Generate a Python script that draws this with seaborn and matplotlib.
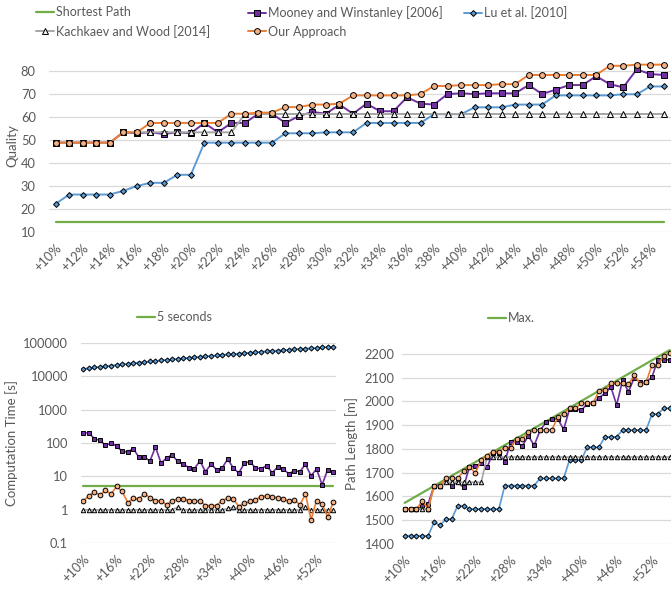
import numpy as np
import matplotlib
matplotlib.use("Agg")
import matplotlib.pyplot as plt
import seaborn as sns

# ---------------- data ----------------
categories = ["+10%", "+11%", "+12%", "+13%", "+14%", "+15%", "+16%", "+17%", "+18%", "+19%",
              "+20%", "+21%", "+22%", "+23%", "+24%", "+25%", "+26%", "+27%", "+28%", "+29%",
              "+30%", "+31%", "+32%", "+33%", "+34%", "+35%", "+36%", "+37%", "+38%", "+39%",
              "+40%", "+41%", "+42%", "+43%", "+44%", "+45%", "+46%", "+47%", "+48%", "+49%",
              "+50%", "+51%", "+52%", "+53%", "+54%", "+55%"]

# Quality (top chart)
shortest_cats = ["+10%", "+55%"]
quality_shortest = [14.1, 14.1]
quality_mooney = [48.8, 48.8, 48.8, 48.8, 48.8, 53.3, 52.9, 53.3, 52.6, 53.3,
                  52.9, 57.4, 53.3, 57.4, 57.4, 61.4, 61.4, 57.4, 60.4, 62.2,
                  61.4, 65.4, 61.4, 65.8, 62.5, 62.5, 68.6, 65.8, 65.4, 70.0,
                  70.3, 70.0, 70.3, 70.3, 70.3, 73.9, 70.0, 71.9, 73.9, 73.9,
                  77.8, 74.3, 72.9, 80.7, 78.7, 78.3]
quality_lu = [22.2, 26.2, 26.2, 26.2, 26.2, 27.8, 29.9, 31.3, 31.3, 34.8,
              34.8, 48.8, 48.8, 48.8, 48.8, 48.8, 48.8, 52.9, 52.9, 52.9,
              53.3, 53.3, 53.3, 57.4, 57.4, 57.4, 57.4, 57.4, 61.2, 61.2,
              61.2, 64.2, 64.2, 64.2, 65.4, 65.4, 65.4, 69.4, 69.4, 69.4,
              69.4, 69.4, 69.9, 69.9, 73.3, 73.3]
quality_kachkaev = [48.8, 48.8, 48.8, 48.8, 48.8, 53.3, 53.3, 53.3, 53.3, 53.3,
                    53.3, 53.3, 53.3, 53.3, 61.3, 61.3, 61.3, 61.3, 61.3, 61.3,
                    61.3, 61.3, 61.3, 61.3, 61.3, 61.3, 61.3, 61.3, 61.3, 61.3,
                    61.3, 61.3, 61.3, 61.3, 61.3, 61.3, 61.3, 61.3, 61.3, 61.3,
                    61.3, 61.3, 61.3, 61.3, 61.3, 61.3]
quality_ours = [48.8, 48.8, 48.8, 48.8, 48.8, 53.3, 53.3, 57.4, 57.4, 57.4,
                57.4, 57.4, 57.4, 61.4, 61.4, 61.9, 61.9, 64.3, 64.3, 65.4,
                65.4, 65.8, 69.4, 69.4, 69.4, 69.4, 69.4, 70.0, 73.5, 73.5,
                73.9, 73.9, 73.9, 74.3, 74.3, 78.3, 78.3, 78.3, 78.3, 78.3,
                78.3, 82.3, 82.3, 82.8, 82.8, 82.8]

# Computation time (bottom left)
limit_cats = ["+10%", "+55%"]
time_limit = [5, 5]
time_mooney = [200, 200, 135, 120, 85, 100, 81, 56, 54, 68,
               38, 38, 29, 76, 25, 36, 44, 28, 24, 18,
               17, 29, 14, 23, 16, 18, 33, 18, 12.6, 25,
               27.5, 18, 17, 21, 13, 19, 16.6, 12, 14.8, 14,
               23, 10.5, 16.6, 5.6, 16, 13.5]
time_lu = [16500, 17300, 18200, 19000, 19800, 20700, 21600, 22500, 23400, 24400,
           25400, 26400, 27400, 28500, 29600, 30700, 31800, 33000, 34200, 35400,
           36600, 37900, 39200, 40500, 41800, 43200, 44600, 46000, 47400, 48900,
           50400, 51900, 53400, 55000, 56600, 58200, 59800, 61500, 63200, 64900,
           66600, 68400, 70200, 72000, 73800, 75600]
time_kachkaev = [1.0, 1.0, 1.0, 1.0, 1.0, 1.0, 1.0, 1.0, 1.0, 1.0,
                 1.0, 1.0, 1.0, 1.0, 1.0, 1.0, 1.0, 1.2, 1.0, 1.0,
                 1.0, 1.0, 1.0, 1.0, 1.0, 1.0, 1.1, 1.2, 1.0, 1.0,
                 1.0, 1.0, 1.0, 1.0, 1.0, 1.0, 1.0, 1.0, 1.0, 1.0,
                 1.2, 1.0, 1.0, 1.0, 1.0, 1.0]
time_ours = [1.86, 2.63, 3.4, 2.75, 3.8, 3.0, 5.0, 3.55, 1.66, 2.19,
             2.14, 3.0, 2.34, 1.86, 1.9, 1.41, 1.86, 2.14, 2.14, 1.9,
             1.9, 1.86, 1.35, 1.35, 1.35, 1.9, 2.24, 2.14, 1.26, 1.58,
             1.78, 2.0, 2.5, 2.63, 2.45, 2.29, 2.14, 1.78, 2.0, 1.41,
             3.0, 0.51, 1.9, 1.51, 0.6, 1.7]

# Path length (bottom right)
max_cats = ["+10%", "+55%"]
length_max = [1573, 2216]
length_mooney = [1547, 1547, 1547, 1560, 1570, 1646, 1646, 1660, 1646, 1660,
                 1638, 1725, 1728, 1740, 1722, 1785, 1785, 1746, 1828, 1828,
                 1813, 1855, 1815, 1878, 1912, 1926, 1926, 1882, 1968, 1968,
                 1962, 1990, 1992, 2015, 2034, 2062, 1985, 2088, 2041, 2100,
                 2080, 2080, 2103, 2175, 2175, 2175]
length_lu = [1435, 1435, 1435, 1435, 1435, 1491, 1478, 1505, 1505, 1561,
             1561, 1547, 1547, 1547, 1547, 1547, 1547, 1646, 1646, 1646,
             1646, 1646, 1646, 1676, 1676, 1676, 1676, 1676, 1754, 1754,
             1754, 1807, 1807, 1807, 1851, 1851, 1851, 1879, 1879, 1879,
             1879, 1879, 1947, 1947, 1971, 1971]
length_kachkaev = [1547, 1547, 1547, 1547, 1547, 1646, 1646, 1660, 1660, 1660,
                   1660, 1660, 1660, 1660, 1766, 1766, 1766, 1766, 1766, 1766,
                   1766, 1766, 1766, 1766, 1766, 1766, 1766, 1766, 1766, 1766,
                   1766, 1766, 1766, 1766, 1766, 1766, 1766, 1766, 1766, 1766,
                   1766, 1766, 1766, 1766, 1766, 1766]
length_ours = [1547, 1547, 1547, 1581, 1547, 1646, 1646, 1676, 1676, 1676,
               1707, 1726, 1698, 1754, 1772, 1789, 1789, 1806, 1806, 1842,
               1842, 1870, 1880, 1880, 1880, 1880, 1933, 1947, 1971, 1971,
               1992, 1992, 1992, 2044, 2048, 2076, 2076, 2076, 2072, 2110,
               2075, 2080, 2154, 2154, 2192, 2203]

# ---------------- style ----------------
sns.set_theme(style="white")
plt.rcParams["font.family"] = ["Lato", "DejaVu Sans"]
TXT = "#595959"
GREEN, PURPLE, BLUE, GRAY, ORANGE = "#70AD47", "#7030A0", "#5B9BD5", "#A5A5A5", "#ED7D31"
ORANGE_FACE = "#F4B183"

W, H = 671, 591
fig = plt.figure(figsize=(W / 100, H / 100), dpi=100)

def fx(px):
    return px / W

def fy(py):
    return 1 - py / H

ax1 = fig.add_axes([fx(49), fy(231.7), (670.5 - 49) / W, (231.7 - 59.6) / H])
ax2 = fig.add_axes([fx(80.5), fy(543.3), (336 - 80.5) / W, (543.3 - 342.7) / H])
ax3 = fig.add_axes([fx(401.7), fy(544), (672.6 - 401.7) / W, (544 - 342) / H])

x_idx = np.arange(len(categories))

def idx_of(cats):
    return [categories.index(c) for c in cats]

def series(ax, y, color, marker=None, ms=4, mfc=None, lw=1.4, label=None, x=None):
    kws = dict(color=color, linewidth=lw, label=label, legend=False, ax=ax)
    if marker is not None:
        kws.update(marker=marker, markersize=ms, markerfacecolor=mfc,
                   markeredgecolor="black", markeredgewidth=0.7)
    sns.lineplot(x=x_idx if x is None else x, y=y, **kws)

def style(ax):
    for s in ax.spines.values():
        s.set_visible(False)
    ax.grid(axis="y", color="#D9D9D9", linewidth=0.9)
    ax.grid(axis="x", visible=False)
    ax.set_axisbelow(True)
    ax.tick_params(axis="both", length=0, colors=TXT, labelsize=9.3)
    ax.set_xlim(-0.5, len(categories) - 0.5)
    ax.set_xlabel("")

# ---- top: Quality ----
series(ax1, quality_shortest, GREEN, lw=1.6, label="Shortest Path", x=idx_of(shortest_cats))
series(ax1, quality_mooney, PURPLE, "s", 4.2, PURPLE, label="Mooney and Winstanley [2006]")
series(ax1, quality_lu, BLUE, "D", 3.0, BLUE, label="Lu et al. [2010]")
series(ax1, quality_kachkaev, GRAY, "^", 4.0, "#F2F2F2", label="Kachkaev and Wood [2014]")
series(ax1, quality_ours, ORANGE, "o", 4.2, ORANGE_FACE, label="Our Approach")
style(ax1)
ax1.set_ylim(10, 85)
ax1.set_yticks(np.arange(10, 81, 10))
ax1.tick_params(axis="y", pad=9.5)
ax1.set_xticks(x_idx[::2])
ax1.set_xticklabels(categories[::2], rotation=45, ha="right", rotation_mode="anchor")
ax1.tick_params(axis="x", pad=7)
ax1.set_ylabel("Quality", color=TXT, fontsize=9.5)
ax1.yaxis.set_label_coords((18 - 49) / (670.5 - 49), 0.5)

h1, l1 = ax1.get_legend_handles_labels()
hd = dict(zip(l1, h1))
leg_kw = dict(frameon=False, fontsize=9, handlelength=1.45, handletextpad=0.15,
              labelspacing=0.55, borderpad=0, borderaxespad=0, loc="upper left",
              labelcolor=TXT)
for names, xpx in [(["Shortest Path", "Kachkaev and Wood [2014]"], 36),
                   (["Mooney and Winstanley [2006]", "Our Approach"], 248),
                   (["Lu et al. [2010]"], 464)]:
    fig.legend([hd[n] for n in names], names, bbox_to_anchor=(fx(xpx), fy(6)), **leg_kw)

# ---- bottom-left: Computation time ----
series(ax2, time_limit, GREEN, lw=1.6, label="5 seconds", x=idx_of(limit_cats))
series(ax2, time_mooney, PURPLE, "s", 3.5, PURPLE, lw=1.2)
series(ax2, time_lu, BLUE, "D", 2.6, BLUE, lw=1.2)
series(ax2, time_kachkaev, GRAY, "^", 3.2, "#E6E6E6", lw=1.2)
series(ax2, time_ours, ORANGE, "o", 3.4, ORANGE_FACE, lw=1.2)
style(ax2)
ax2.set_yscale("log")
ax2.set_ylim(0.1, 100000)
yt = [0.1, 1, 10, 100, 1000, 10000, 100000]
ax2.set_yticks(yt)
ax2.set_yticklabels(["0.1", "1", "10", "100", "1000", "10000", "100000"])
ax2.yaxis.set_minor_locator(matplotlib.ticker.NullLocator())
ax2.tick_params(axis="y", pad=9)
ax2.set_xticks(x_idx[::6])
ax2.set_xticklabels(categories[::6], rotation=45, ha="right", rotation_mode="anchor")
ax2.tick_params(axis="x", pad=7)
ax2.set_ylabel("Computation Time [s]", color=TXT, fontsize=9.5)
ax2.yaxis.set_label_coords((18 - 80.5) / (336 - 80.5), 0.5)
h2, l2 = ax2.get_legend_handles_labels()
fig.legend([h2[l2.index("5 seconds")]], ["5 seconds"], frameon=False, fontsize=9,
           handlelength=1.45, handletextpad=0.15, borderpad=0, borderaxespad=0,
           loc="center left", bbox_to_anchor=(fx(137), fy(317)), labelcolor=TXT)

# ---- bottom-right: Path length ----
series(ax3, length_max, GREEN, lw=1.6, label="Max.", x=idx_of(max_cats))
series(ax3, length_mooney, PURPLE, "s", 3.5, PURPLE, lw=1.2)
series(ax3, length_lu, BLUE, "D", 2.6, BLUE, lw=1.2)
series(ax3, length_kachkaev, GRAY, "^", 3.2, "#E6E6E6", lw=1.2)
series(ax3, length_ours, ORANGE, "o", 3.4, ORANGE_FACE, lw=1.2)
style(ax3)
ax3.set_ylim(1400, 2250)
ax3.set_yticks(np.arange(1400, 2201, 100))
ax3.tick_params(axis="y", pad=5)
ax3.set_xticks(x_idx[::6])
ax3.set_xticklabels(categories[::6], rotation=45, ha="right", rotation_mode="anchor")
ax3.tick_params(axis="x", pad=7)
ax3.set_ylabel("Path Length [m]", color=TXT, fontsize=9.5)
ax3.yaxis.set_label_coords((358 - 401.7) / (672.6 - 401.7), 0.5)
h3, l3 = ax3.get_legend_handles_labels()
fig.legend([h3[l3.index("Max.")]], ["Max."], frameon=False, fontsize=9,
           handlelength=1.45, handletextpad=0.15, borderpad=0, borderaxespad=0,
           loc="center left", bbox_to_anchor=(fx(488), fy(318)), labelcolor=TXT)

fig.savefig("out.png", dpi=100)
